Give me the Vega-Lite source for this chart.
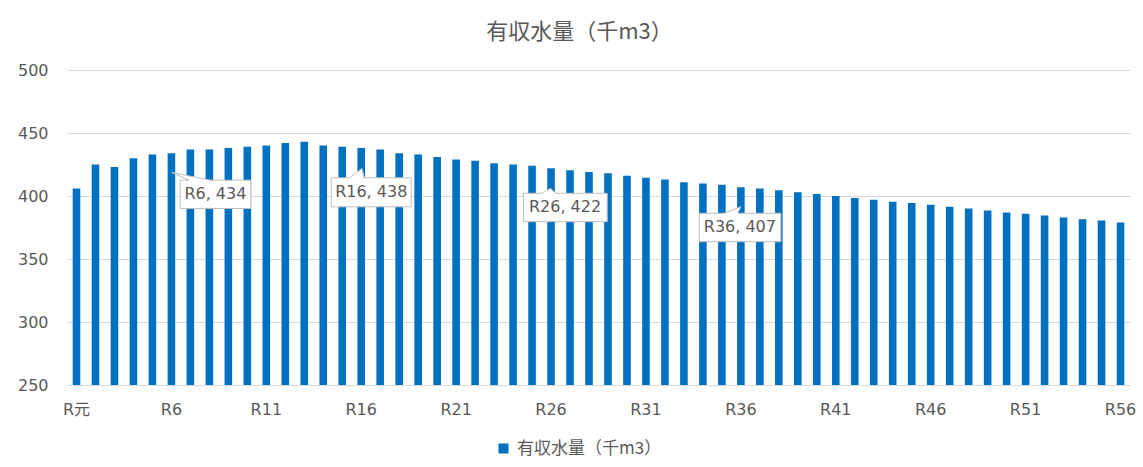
{
  "$schema": "https://vega.github.io/schema/vega-lite/v6.json",
  "autosize": "none",
  "width": 1063,
  "height": 315,
  "padding": {"left": 67, "top": 70, "right": 13, "bottom": 82},
  "background": "white",
  "config": {"view": {"stroke": null}, "font": "DejaVu Sans, Noto Sans CJK JP"},
  "title": {"text": "有収水量（千m3）", "fontSize": 22, "font": "Noto Sans CJK JP, DejaVu Sans", "fontWeight": "normal", "color": "#595959", "anchor": "middle", "dx": -19, "offset": 18},
  "data": {"values": [
    {"period": "R元", "value": 406}, {"period": "R2", "value": 425}, {"period": "R3", "value": 423},
    {"period": "R4", "value": 430}, {"period": "R5", "value": 433}, {"period": "R6", "value": 434},
    {"period": "R7", "value": 437}, {"period": "R8", "value": 437}, {"period": "R9", "value": 438},
    {"period": "R10", "value": 439}, {"period": "R11", "value": 440}, {"period": "R12", "value": 442},
    {"period": "R13", "value": 443}, {"period": "R14", "value": 440}, {"period": "R15", "value": 439},
    {"period": "R16", "value": 438}, {"period": "R17", "value": 437}, {"period": "R18", "value": 434},
    {"period": "R19", "value": 433}, {"period": "R20", "value": 431}, {"period": "R21", "value": 429},
    {"period": "R22", "value": 428}, {"period": "R23", "value": 426}, {"period": "R24", "value": 425},
    {"period": "R25", "value": 424}, {"period": "R26", "value": 422}, {"period": "R27", "value": 420.5},
    {"period": "R28", "value": 419}, {"period": "R29", "value": 418}, {"period": "R30", "value": 416},
    {"period": "R31", "value": 414.5}, {"period": "R32", "value": 413}, {"period": "R33", "value": 411},
    {"period": "R34", "value": 410}, {"period": "R35", "value": 409}, {"period": "R36", "value": 407},
    {"period": "R37", "value": 406}, {"period": "R38", "value": 404.5}, {"period": "R39", "value": 403},
    {"period": "R40", "value": 401.5}, {"period": "R41", "value": 400}, {"period": "R42", "value": 398.5},
    {"period": "R43", "value": 397}, {"period": "R44", "value": 395.5}, {"period": "R45", "value": 394.5},
    {"period": "R46", "value": 393}, {"period": "R47", "value": 391.5}, {"period": "R48", "value": 390},
    {"period": "R49", "value": 388.5}, {"period": "R50", "value": 387}, {"period": "R51", "value": 386},
    {"period": "R52", "value": 384.5}, {"period": "R53", "value": 383}, {"period": "R54", "value": 381.5},
    {"period": "R55", "value": 380.5}, {"period": "R56", "value": 379}
  ]},
  "transform": [{"calculate": "datum.period + ', ' + format(datum.value, '.0f')", "as": "label"}],
  "encoding": {
    "x": {
      "field": "period", "type": "nominal", "sort": null,
      "scale": {"paddingInner": 0.6, "paddingOuter": 0.3},
      "axis": {
        "title": null, "values": ["R元", "R6", "R11", "R16", "R21", "R26", "R31", "R36", "R41", "R46", "R51", "R56"],
        "labelAngle": 0, "ticks": false, "domain": true, "domainColor": "#d9d9d9", "grid": false,
        "labelFontSize": 16, "labelColor": "#595959", "labelPadding": 16, "labelFont": "DejaVu Sans, Noto Sans CJK JP"
      }
    },
    "y": {
      "field": "value", "type": "quantitative",
      "scale": {"domain": [250, 500]},
      "axis": {
        "title": null, "values": [250, 300, 350, 400, 450, 500], "domain": false, "ticks": false,
        "grid": true, "gridColor": "#d9d9d9", "labelFontSize": 16, "labelColor": "#595959",
        "labelPadding": 19, "labelFont": "DejaVu Sans"
      }
    }
  },
  "layer": [
    {
      "mark": {"type": "bar", "color": "#0070c0"},
      "encoding": {
        "y2": {"datum": 250},
        "color": {
          "datum": "有収水量（千m3）", "type": "nominal",
          "scale": {"range": ["#0070c0"]},
          "legend": {
            "orient": "none", "legendX": 428, "legendY": 370, "title": null, "padding": 0,
            "symbolType": "square", "symbolSize": 100, "labelFontSize": 17, "labelOffset": 5,
            "labelFont": "Noto Sans CJK JP", "labelColor": "#595959"
          }
        }
      }
    },
    {
      "transform": [{"filter": "datum.period == 'R6'"}],
      "mark": {"type": "point", "shape": "M0.088,0.27L0.175,0.27L0.002,0.193L0.395,0.27L0.795,0.27L0.795,0.553L0.088,0.553Z", "size": 40000, "filled": true, "fill": "white", "stroke": "#bfbfbf", "strokeWidth": 1, "opacity": 1, "fillOpacity": 1}
    },
    {
      "transform": [{"filter": "datum.period == 'R16'"}],
      "mark": {"type": "point", "shape": "M-0.30,0.297L-0.117,0.297L0.007,0.203L0.03,0.297L0.50,0.297L0.50,0.587L-0.30,0.587Z", "size": 40000, "filled": true, "fill": "white", "stroke": "#bfbfbf", "strokeWidth": 1, "opacity": 1, "fillOpacity": 1}
    },
    {
      "transform": [{"filter": "datum.period == 'R26'"}],
      "mark": {"type": "point", "shape": "M-0.275,0.25L-0.088,0.25L-0.005,0.20L0.045,0.25L0.562,0.25L0.562,0.534L-0.275,0.534Z", "size": 40000, "filled": true, "fill": "white", "stroke": "#bfbfbf", "strokeWidth": 1, "opacity": 1, "fillOpacity": 1}
    },
    {
      "transform": [{"filter": "datum.period == 'R36'"}],
      "mark": {"type": "point", "shape": "M-0.417,0.261L-0.167,0.261L0,0.195L-0.03,0.261L0.40,0.261L0.40,0.545L-0.417,0.545Z", "size": 40000, "filled": true, "fill": "white", "stroke": "#bfbfbf", "strokeWidth": 1, "opacity": 1, "fillOpacity": 1}
    },
    {
      "transform": [{"filter": "datum.period == 'R6'"}],
      "mark": {"type": "text", "dx": 44, "dy": 41, "align": "center", "baseline": "middle", "fontSize": 16, "font": "DejaVu Sans", "color": "#595959"},
      "encoding": {"text": {"field": "label"}}
    },
    {
      "transform": [{"filter": "datum.period == 'R16'"}],
      "mark": {"type": "text", "dx": 10, "dy": 44, "align": "center", "baseline": "middle", "fontSize": 16, "font": "DejaVu Sans", "color": "#595959"},
      "encoding": {"text": {"field": "label"}}
    },
    {
      "transform": [{"filter": "datum.period == 'R26'"}],
      "mark": {"type": "text", "dx": 14, "dy": 39, "align": "center", "baseline": "middle", "fontSize": 16, "font": "DejaVu Sans", "color": "#595959"},
      "encoding": {"text": {"field": "label"}}
    },
    {
      "transform": [{"filter": "datum.period == 'R36'"}],
      "mark": {"type": "text", "dx": -1, "dy": 40, "align": "center", "baseline": "middle", "fontSize": 16, "font": "DejaVu Sans", "color": "#595959"},
      "encoding": {"text": {"field": "label"}}
    }
  ]
}
